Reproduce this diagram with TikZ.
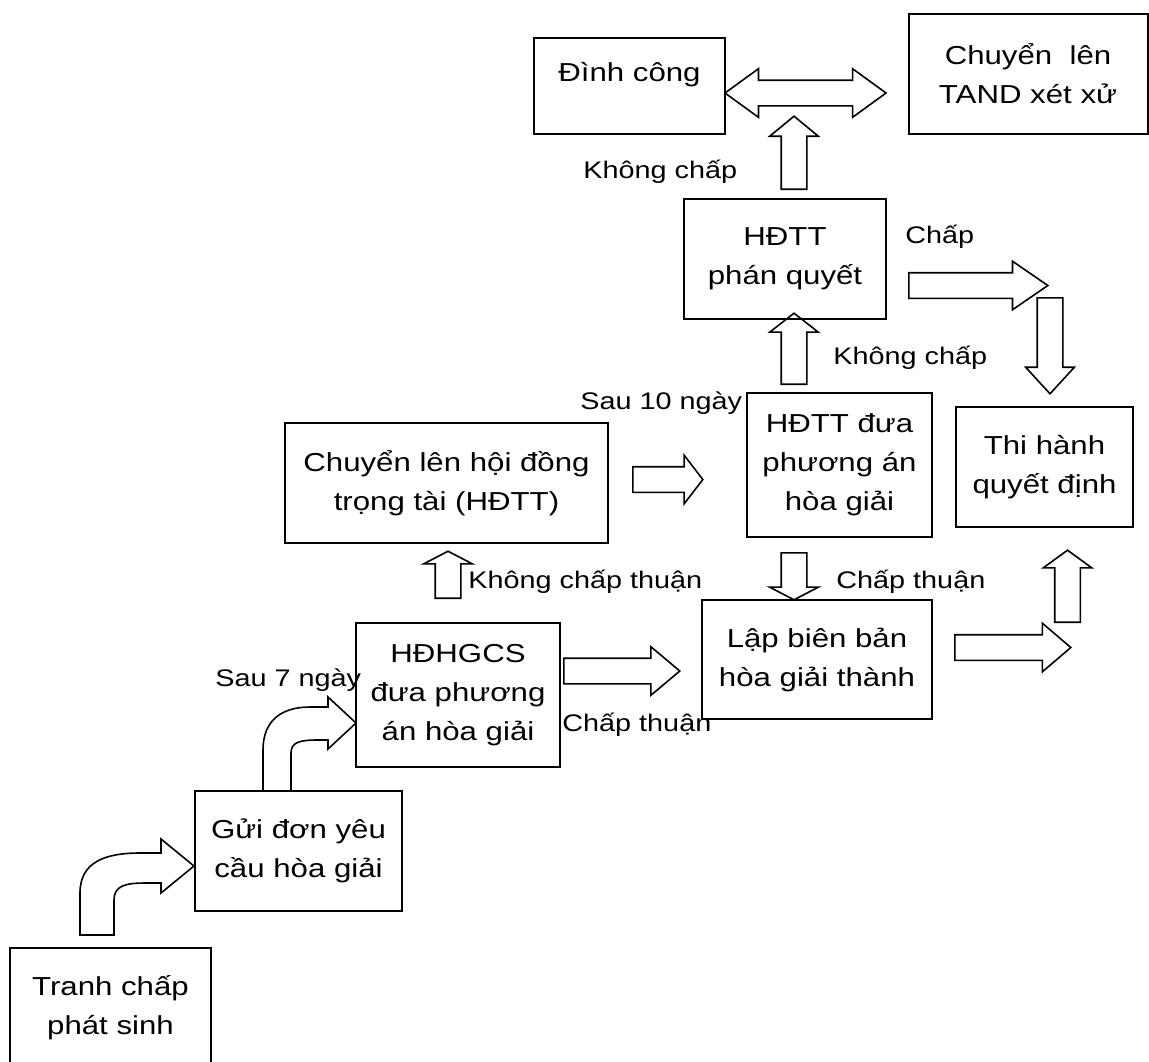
\documentclass[tikz,border=0pt]{standalone}
\usepackage{fontspec}
\setmainfont{Liberation Sans}[FakeStretch=1.2]
\usetikzlibrary{shapes.arrows}

\begin{document}
\begin{tikzpicture}[
  x=0.5pt, y=-0.5pt,
  box/.style={rectangle, draw, line width=1pt, inner sep=0pt, align=center,
    font=\fontsize{13}{19.5}\selectfont},
  barrow/.style={single arrow, draw, line width=0.8pt, inner xsep=0pt, inner ysep=6pt,
    single arrow head extend=5.75pt, anchor=tail},
  curvedarrow/.style={draw, line width=0.8pt, line join=miter},
  lbl/.style={anchor=west, inner sep=0pt, font=\fontsize{12}{14}\selectfont}
]
\useasboundingbox (0,0) rectangle (1149,1061);

% boxes
\node[box, minimum width=100.5pt, minimum height=60pt] (tranh) at (110.5,1008) {Tranh chấp\\phát sinh};
\node[box, minimum width=103.5pt, minimum height=60pt] (gui) at (298.5,851) {Gửi đơn yêu\\cầu hòa giải};
\node[box, minimum width=102pt, minimum height=72pt] (hdhgcs) at (458,695) {HĐHGCS\\đưa phương\\án hòa giải};
\node[box, minimum width=161.5pt, minimum height=60pt] (chuyen) at (446.5,483) {Chuyển lên hội đồng\\trọng tài (HĐTT)};
\node[box, minimum width=92.5pt, minimum height=72pt] (hdttdua) at (839.5,465) {HĐTT đưa\\phương án\\hòa giải};
\node[box, minimum width=115pt, minimum height=59.5pt] (lap) at (817,659.5) {Lập biên bản\\hòa giải thành};
\node[box, minimum width=101pt, minimum height=60pt] (phanquyet) at (785,259) {HĐTT\\phán quyết};
\node[box, minimum width=88.5pt, minimum height=60pt] (thihanh) at (1044.5,467) {Thi hành\\quyết định};
\node[box, minimum width=95.5pt, minimum height=48pt, text height=9.4pt, text depth=14pt] (dinhcong) at (629.5,86) {Đình công};
\node[box, minimum width=119.5pt, minimum height=60pt] (tand) at (1028,74) {Chuyển\ \ lên\\TAND xét xử};

% block arrows
\node[barrow, minimum height=69.5pt, single arrow tip angle=69] (chap) at (908,285.5) {};
\node[barrow, minimum height=48pt, single arrow tip angle=85, rotate=-90] (xuong) at (1050,297) {};
\node[barrow, minimum height=36.5pt, single arrow tip angle=101, rotate=90] (len1) at (794,190) {};
\node[barrow, minimum height=35.5pt, single arrow tip angle=104, rotate=90] (len2) at (794,385) {};
\node[barrow, minimum height=35pt, single arrow tip angle=105] (sang1) at (632,479.5) {};
\node[barrow, minimum height=23.5pt, single arrow tip angle=125, rotate=-90] (xuong2) at (794,552) {};
\node[barrow, minimum height=23.5pt, single arrow tip angle=125, rotate=90] (len3) at (448,599) {};
\node[barrow, minimum height=58pt, single arrow tip angle=80] (sang2) at (563,671) {};
\node[barrow, minimum height=58pt, single arrow tip angle=81] (sang3) at (954,647.5) {};
\node[barrow, minimum height=36pt, single arrow tip angle=108, rotate=90] (len4) at (1067.5,623) {};
\node[double arrow, draw, line width=0.8pt, inner xsep=0pt, inner ysep=6pt,
  double arrow head extend=5.75pt, double arrow tip angle=72, minimum height=80.5pt] (hai) at (805.5,93) {};

% curved arrows
\draw[curvedarrow] (80,935) -- (80,893) .. controls (80,862) and (105,853) .. (140,853) -- (161,853)
  -- (161,839) -- (194,866) -- (161,893) -- (161,883) -- (145,883)
  .. controls (125,883) and (114,886) .. (114,900) -- (114,935) -- cycle;
\draw[curvedarrow] (263,791) -- (263,750) .. controls (263,720) and (282,707) .. (310,707) -- (328,707)
  -- (328,697) -- (356,723) -- (328,749) -- (328,740) -- (318,740)
  .. controls (300,740) and (291,742) .. (291,753) -- (291,791) -- cycle;

% labels
\node[lbl] (l1) at (583,172) {Không chấp};
\node[lbl] (l2) at (833,358) {Không chấp};
\node[lbl] (l3) at (905,237) {Chấp};
\node[lbl] (l4) at (580,403) {Sau 10 ngày};
\node[lbl] (l5) at (468,582) {Không chấp thuận};
\node[lbl] (l6) at (836,582) {Chấp thuận};
\node[lbl] (l7) at (562,725) {Chấp thuận};
\node[lbl] (l8) at (215,680) {Sau 7 ngày};
\end{tikzpicture}
\end{document}
